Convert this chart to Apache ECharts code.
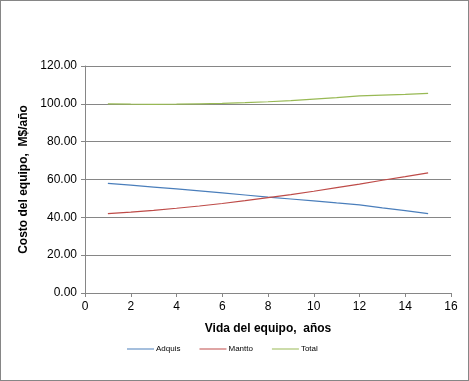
<!DOCTYPE html>
<html>
<head>
<meta charset="utf-8">
<script src="https://cdn.jsdelivr.net/npm/echarts@6/dist/echarts.min.js"></script>
<style>
html,body{margin:0;padding:0;background:#fff;}
#chart{width:469px;height:381px;box-sizing:border-box;border:1px solid #868686;}
</style>
</head>
<body>
<div id="chart"></div>
<script>
// años de vida del equipo
var anios = [1, 2, 3, 4, 5, 6, 7, 8, 9, 10, 11, 12, 13, 14, 15];
var adquis = [58, 57, 56, 55, 54, 52.9, 51.8, 50.7, 49.7, 48.7, 47.6, 46.6, 45, 43.5, 42];
var mantto = [42, 42.8, 43.7, 44.8, 46, 47.3, 48.8, 50.4, 52, 53.8, 55.7, 57.6, 59.6, 61.5, 63.5];
var total = [100, 99.8, 99.7, 99.8, 100, 100.2, 100.6, 101.1, 101.7, 102.5, 103.3, 104.2, 104.6, 105, 105.5];

function pares(ys) {
	return anios.map(function (x, i) { return [x, ys[i]]; });
}

var myChart = echarts.init(document.getElementById('chart'));

var fuente = 'Liberation Sans';

var option = {
	animation: false,
	grid: {
		left: 84,
		right: 17,
		top: 65,
		bottom: 87
	},
	xAxis: {
		type: 'value',
		min: 0,
		max: 16,
		interval: 2,
		name: 'Vida del equipo,  años',
		nameLocation: 'middle',
		nameGap: 30,
		nameTextStyle: { color: '#000', fontWeight: 'bold', fontSize: 12, fontFamily: fuente },
		axisLine: { show: true, lineStyle: { color: '#868686' } },
		axisTick: { show: true, inside: false, length: 4, lineStyle: { color: '#868686' } },
		axisLabel: { color: '#000', fontSize: 12, fontFamily: fuente, margin: 8 },
		splitLine: { show: false }
	},
	yAxis: {
		type: 'value',
		min: 0,
		max: 120,
		interval: 20,
		name: 'Costo del equipo,  M$/año',
		nameLocation: 'middle',
		nameGap: 55,
		nameTextStyle: { color: '#000', fontWeight: 'bold', fontSize: 12, fontFamily: fuente },
		axisLine: { show: true, lineStyle: { color: '#868686' } },
		axisTick: { show: true, length: 4, lineStyle: { color: '#868686' } },
		axisLabel: {
			color: '#000', fontSize: 12, fontFamily: fuente, margin: 8,
			formatter: function (v) { return v.toFixed(2); }
		},
		splitLine: { show: true, lineStyle: { color: '#868686', width: 1 } }
	},
	legend: {
		top: 339,
		left: 121,
		icon: 'rect',
		itemWidth: 27,
		itemHeight: 1,
		itemGap: 19,
		textStyle: { color: '#000', fontSize: 8, fontFamily: fuente, padding: [0, 0, 0, -3] },
		data: ['Adquis', 'Mantto', 'Total']
	},
	series: [{
			name: 'Adquis',
			type: 'line',
			showSymbol: false,
			data: pares(adquis),
			lineStyle: { color: '#4a7ebb', width: 1.2 },
			itemStyle: { color: '#4a7ebb' }
		},
		{
			name: 'Mantto',
			type: 'line',
			showSymbol: false,
			data: pares(mantto),
			lineStyle: { color: '#be4b48', width: 1.2 },
			itemStyle: { color: '#be4b48' }
		},
		{
			name: 'Total',
			type: 'line',
			showSymbol: false,
			data: pares(total),
			lineStyle: { color: '#98b954', width: 1.2 },
			itemStyle: { color: '#98b954' }
		}
	]
};
myChart.setOption(option);
</script>
</body>
</html>
